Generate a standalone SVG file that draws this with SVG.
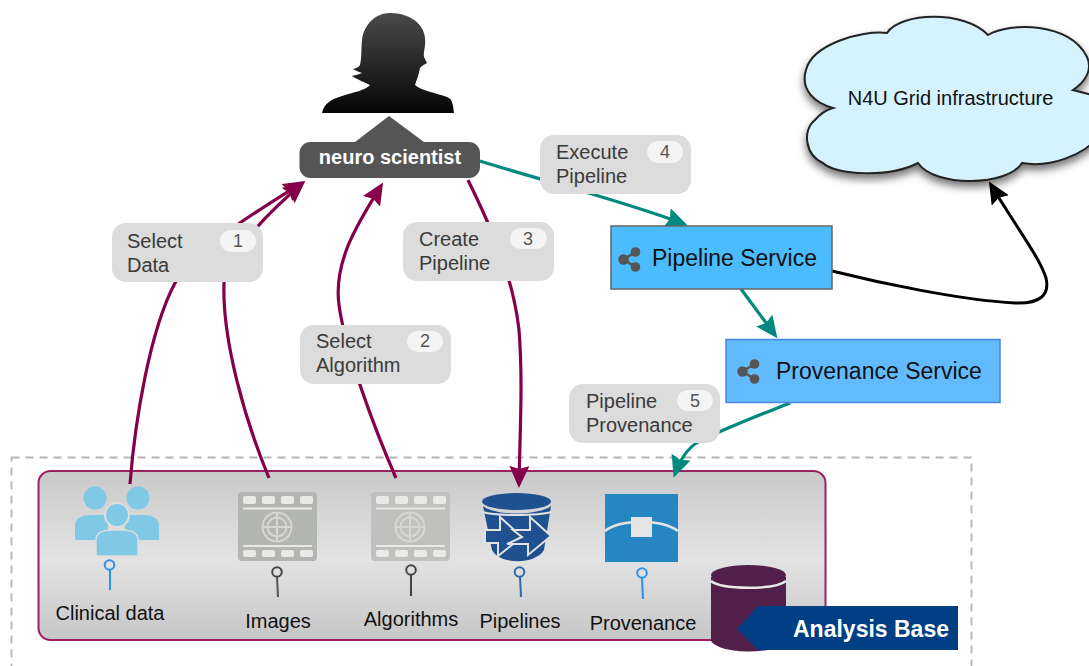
<svg xmlns="http://www.w3.org/2000/svg" width="1089" height="666" viewBox="0 0 1089 666">
<defs>
<linearGradient id="base" x1="0" y1="0" x2="0" y2="1"><stop offset="0" stop-color="#c9c9c9"/><stop offset="0.52" stop-color="#e3e3e3"/><stop offset="1" stop-color="#c6c6c6"/></linearGradient>
<linearGradient id="dark" x1="0" y1="0" x2="0" y2="1"><stop offset="0" stop-color="#4a4a4a"/><stop offset="1" stop-color="#050505"/></linearGradient>
<filter id="sh" x="-10%" y="-10%" width="120%" height="125%"><feDropShadow dx="0" dy="5" stdDeviation="4" flood-color="#000" flood-opacity="0.55"/></filter>
<marker id="mr" markerUnits="userSpaceOnUse" markerWidth="26" markerHeight="22" refX="18" refY="10" orient="auto"><path d="M0 0L22 10L0 20L3 10Z" fill="#85004a"/></marker>
<marker id="mt" markerUnits="userSpaceOnUse" markerWidth="26" markerHeight="22" refX="18" refY="10" orient="auto"><path d="M0 0L22 10L0 20L3 10Z" fill="#00897f"/></marker>
<marker id="mk" markerUnits="userSpaceOnUse" markerWidth="26" markerHeight="22" refX="18" refY="10" orient="auto"><path d="M0 0L22 10L0 20L3 10Z" fill="#000"/></marker>
<g id="film"><rect x="0" y="0" width="79" height="69" rx="4" fill="currentColor"/><g fill="#e9e9e7"><rect x="5" y="4" width="13" height="8" rx="2"/><rect x="24" y="4" width="13" height="8" rx="2"/><rect x="43" y="4" width="13" height="8" rx="2"/><rect x="62" y="4" width="13" height="8" rx="2"/><rect x="5" y="58" width="13" height="7" rx="2"/><rect x="24" y="58" width="13" height="7" rx="2"/><rect x="43" y="58" width="13" height="7" rx="2"/><rect x="62" y="58" width="13" height="7" rx="2"/><rect x="5" y="15.500" width="69" height="2"/><rect x="5" y="53" width="69" height="2"/></g><g fill="none" stroke="#d6d6d4" stroke-width="2"><circle cx="39" cy="35" r="14.500"/><circle cx="39" cy="35" r="9.500"/><path d="M39 21V49M25 35H53"/></g></g>
<g id="share"><g fill="#555"><circle cx="5.500" cy="12.500" r="5.200"/><circle cx="17.500" cy="5" r="4.800"/><circle cx="17.500" cy="20" r="4.800"/></g><path d="M5.500 12.500L17.500 5M5.500 12.500L17.500 20" stroke="#555" stroke-width="2.600" fill="none"/></g>
</defs>
<style>
text{font-family:"Liberation Sans",Arial,sans-serif}
.lb{font-size:20px;fill:#3a3a3a}
.cal{fill:#dcdcdc}
.pill{fill:#f4f4f4}
.num{font-size:18px;fill:#555;text-anchor:middle}
.cap{font-size:20px;fill:#111;text-anchor:middle}
.r{fill:none;stroke:#85004a;stroke-width:3.200}
.t{fill:none;stroke:#00897f;stroke-width:3.200}
.pin{fill:none;stroke-width:2}
</style>

<rect id="frame" x="11.500" y="457.500" width="960" height="225" fill="none" stroke="#b5b5b5" stroke-width="1.800" stroke-dasharray="8 6"/>

<g id="analysis-base"><rect x="38.500" y="471" width="787" height="169" rx="12" fill="url(#base)" stroke="#9c1f61" stroke-width="2"/></g>

<g id="connectors">
<path class="r" d="M130 484C135 420 150 330 175 283C192 250 262 208 302 183" marker-end="url(#mr)"/>
<path class="r" d="M269 478C245 420 222 340 224 283C225 258 265 215 302 184" marker-end="url(#mr)"/>
<path class="r" d="M396 478C375 430 345 350 339 305C333 260 360 220 381 186" marker-end="url(#mr)"/>
<path class="r" d="M468 180C490 225 513 275 519 330C523 380 520 430 519 484" marker-end="url(#mr)"/>
<path class="t" d="M480 161C540 180 620 200 684 224" marker-end="url(#mt)"/>
<path class="t" d="M741 289L775 335" marker-end="url(#mt)"/>
<path class="t" d="M790 403C760 415 725 428 698 442C688 448 680 460 675 474" marker-end="url(#mt)"/>
<path d="M832 271C880 283 960 300 1015 303C1040 304 1050 295 1046 278C1040 258 1015 225 991 185" fill="none" stroke="#000" stroke-width="3" marker-end="url(#mk)"/>
</g>

<g id="neuro-scientist">
<path d="M389 116L424 142H355Z" fill="#555"/>
<path d="M322 113C324 103 332 99 342 96C355 92 366 90 370 85C366 83 358 80 352 76C356 75 360 74 362 73C358 72 355 70 353 69C357 68 359 67 360 65C362 56 361 48 362 40C364 24 376 13 390 13C410 13 424 24 425 38C426 46 423 52 424 57L427 63C424 65 421 66 420 68C419 75 416 81 415 85C420 90 436 93 447 97C453 99 453 106 454 113Z" fill="url(#dark)"/>
<rect x="299.500" y="142" width="180.500" height="36" rx="11" fill="#555"/>
<text x="390" y="164" font-size="20" font-weight="bold" fill="#fff" text-anchor="middle">neuro scientist</text>
</g>

<g id="callout-1"><rect x="112" y="223" width="151" height="59" rx="14" class="cal"/><text class="lb" x="127" y="248">Select</text><text class="lb" x="127" y="272">Data</text><rect x="220" y="230" width="36" height="22" rx="11" class="pill"/><text class="num" x="238" y="247">1</text></g>
<g id="callout-2"><rect x="300" y="325" width="151" height="59" rx="14" class="cal"/><text class="lb" x="316" y="348">Select</text><text class="lb" x="316" y="372">Algorithm</text><rect x="407" y="331" width="36" height="21" rx="10.500" class="pill"/><text class="num" x="425" y="347">2</text></g>
<g id="callout-3"><rect x="403" y="222" width="151" height="59" rx="14" class="cal"/><text class="lb" x="419" y="246">Create</text><text class="lb" x="419" y="270">Pipeline</text><rect x="510" y="228" width="37" height="21" rx="10.500" class="pill"/><text class="num" x="528" y="245">3</text></g>
<g id="callout-4"><rect x="540" y="135" width="151" height="59" rx="14" class="cal"/><text class="lb" x="556" y="159">Execute</text><text class="lb" x="556" y="183">Pipeline</text><rect x="647" y="141" width="36" height="22" rx="11" class="pill"/><text class="num" x="665" y="158">4</text></g>
<g id="callout-5"><rect x="569" y="384" width="151" height="59" rx="14" class="cal"/><text class="lb" x="586" y="408">Pipeline</text><text class="lb" x="586" y="432">Provenance</text><rect x="677" y="390" width="36" height="21" rx="10.500" class="pill"/><text class="num" x="695" y="407">5</text></g>

<g id="pipeline-service"><rect x="611" y="226" width="221" height="63" fill="#4bbcff" stroke="#666" stroke-width="1.500"/><use href="#share" x="618" y="247"/><text x="652" y="266" font-size="23" fill="#111">Pipeline Service</text></g>
<g id="provenance-service"><rect x="726" y="339.500" width="274" height="63" fill="#63bbff" stroke="#4a86e8" stroke-width="1.500"/><use href="#share" x="737" y="359"/><text x="776" y="379" font-size="23" fill="#111">Provenance Service</text></g>

<g id="cloud"><path filter="url(#sh)" d="M887 33C900 12 965 10 988 35C1010 22 1070 22 1087 57C1093 70 1085 82 1073 90L1100 97V135C1085 155 1050 168 1022 163C1008 186 935 188 918 163C890 178 835 175 823 163C805 155 802 130 815 120C820 114 826 110 833 108C815 103 800 90 806 70C812 45 860 30 887 33Z" fill="#d5f3ff" stroke="#222" stroke-width="2"/><text x="950.500" y="105" font-size="20" fill="#111" text-anchor="middle">N4U Grid infrastructure</text></g>

<g id="clinical-data"><g fill="#7fc8e6"><circle cx="95" cy="498" r="11.500"/><circle cx="138" cy="498" r="11.500"/><path d="M75 540V525C75 518 82 515 92 515H108V540Z"/><path d="M159 540V525C159 518 152 515 142 515H125V540Z"/></g><circle cx="117" cy="515" r="12" fill="#7fc8e6" stroke="#ddd" stroke-width="2"/><path d="M96 556V540C96 532 104 530 112 530H122C130 530 138 532 138 540V556Z" fill="#7fc8e6" stroke="#ddd" stroke-width="1.500"/><circle cx="109.500" cy="565" r="4.800" class="pin" stroke="#2f8fee"/><path d="M110 570L110 590" class="pin" stroke="#2f8fee"/><text class="cap" x="110" y="620">Clinical data</text></g>

<g id="images"><use href="#film" x="238" y="492" color="#b3b5b2"/><circle cx="277" cy="572" r="4.800" class="pin" stroke="#444"/><path d="M277 577L278 597" class="pin" stroke="#555"/><text class="cap" x="278" y="628">Images</text></g>

<g id="algorithms"><use href="#film" x="371" y="492" color="#c0c1be"/><circle cx="411" cy="570" r="4.800" class="pin" stroke="#444"/><path d="M411 575L411 596" class="pin" stroke="#444"/><text class="cap" x="411" y="626">Algorithms</text></g>

<g id="pipelines"><path d="M483 506C495 516 538 516 551 506L544 550C535 565 500 565 492 550Z" fill="#1f5190"/><ellipse cx="516.500" cy="501.500" rx="34.500" ry="8.500" fill="#1f5190"/><path d="M483 512C495 516 538 516 551 512" fill="none" stroke="#e2e2e2" stroke-width="2"/><path d="M485 530H500V517L522 537L498 556V543H485Z" fill="#1f5190" stroke="#e2e2e2" stroke-width="2"/><path d="M513 530H530V517L551 536L528 555V544H507L522 537Z" fill="#1f5190" stroke="#e2e2e2" stroke-width="2"/><circle cx="519.500" cy="572" r="4.800" class="pin" stroke="#2a6aa8"/><path d="M520 577L521 597" class="pin" stroke="#2a6aa8"/><text class="cap" x="520" y="628">Pipelines</text></g>

<g id="provenance"><rect x="605" y="494" width="73" height="68" fill="#2686c2"/><path d="M605 531C620 519 662 519 678 531" fill="none" stroke="#e4e4e4" stroke-width="2.500"/><rect x="631" y="517" width="21" height="20" fill="#e4e4e4"/><circle cx="642" cy="573" r="4.800" class="pin" stroke="#2f8fee"/><path d="M642 578L643 599" class="pin" stroke="#2f8fee"/><text class="cap" x="643" y="630">Provenance</text></g>

<g id="database"><path d="M711 577V641C720 655 778 655 786 641V577Z" fill="#521f4a"/><path d="M711 581C722 590 775 590 786 581" fill="none" stroke="#e8e8e8" stroke-width="2.500"/><ellipse cx="748.500" cy="575" rx="37.500" ry="10" fill="#521f4a"/></g>

<g id="analysis-label"><path d="M737 629L758 606H958V650H758Z" fill="#003f84"/><text x="793" y="637" font-size="23" font-weight="bold" fill="#fff">Analysis Base</text></g>
</svg>
